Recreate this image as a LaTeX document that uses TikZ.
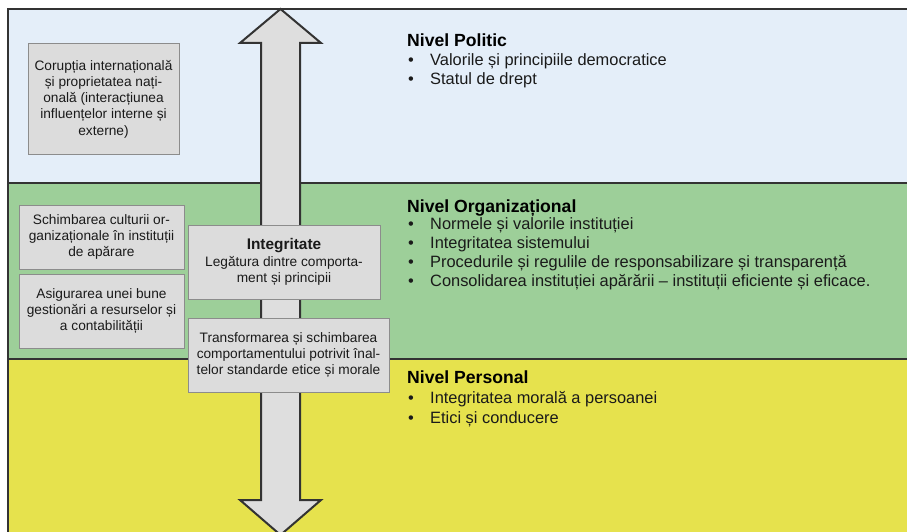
\documentclass[tikz,border=0pt]{standalone}
\usepackage{fontspec}
\setmainfont{Liberation Sans}
\definecolor{bandblue}{HTML}{E4EEF9}
\definecolor{bandgreen}{HTML}{9DCF99}
\definecolor{bandyellow}{HTML}{E6E24D}
\definecolor{boxfill}{HTML}{DCDCDC}
\definecolor{boxline}{HTML}{8C8C8C}
\definecolor{arrowfill}{HTML}{DEDEDE}
\definecolor{frameline}{HTML}{333333}
\definecolor{textcol}{HTML}{1A1A1A}
\tikzset{
  infobox/.style={draw=boxline, line width=1pt, fill=boxfill, align=center,
    inner sep=0pt, text=textcol, font=\fontsize{13.7}{16.3}\selectfont},
  heading/.style={anchor=base west, inner sep=0pt, text=black, font=\fontsize{17.6}{20}\selectfont\bfseries},
  bulletitem/.style={anchor=base west, inner sep=0pt, text=textcol, font=\fontsize{16.4}{19}\selectfont},
  sepline/.style={draw=frameline, line width=2pt},
}
\newcommand{\bul}{\makebox[23pt][l]{\hspace{1pt}•}}
\begin{document}
\begin{tikzpicture}[x=1pt,y=-1pt]
\useasboundingbox (0,0) rectangle (907,532);
\begin{scope}
\clip (0,0) rectangle (907,532);
% bands
\fill[bandblue] (8,9) rectangle (910,183);
\fill[bandgreen] (8,183) rectangle (910,359);
\fill[bandyellow] (8,359) rectangle (910,540);
% frame and separators
\draw[sepline] (8,545) -- (8,9) -- (910,9);
\draw[sepline] (8,183) -- (910,183);
\draw[sepline] (8,359) -- (910,359);
% double arrow
\draw[draw=frameline, line width=2pt, fill=arrowfill, line join=miter]
  (280.5,9) -- (321,43) -- (300,43) -- (300,500) -- (321,500) -- (280.5,535)
  -- (240,500) -- (261,500) -- (261,43) -- (240,43) -- cycle;
\end{scope}
% boxes
\node[infobox, minimum width=151pt, minimum height=110pt] (b1) at (103.5,99)
  {Corupția internațională\\și proprietatea nați-\\onală (interacțiunea\\influențelor interne și\\externe)};
\node[infobox, minimum width=165pt, minimum height=64pt] (b2) at (101.5,237)
  {Schimbarea culturii or-\\ganizaționale în instituții\\de apărare};
\node[infobox, minimum width=165pt, minimum height=74pt] (b3) at (101.5,311)
  {Asigurarea unei bune\\gestionări a resurselor și\\a contabilității};
\node[infobox, minimum width=192pt, minimum height=74pt] (b4) at (284,262)
  {{\fontsize{15.4}{17}\selectfont\bfseries Integritate}\\Legătura dintre comporta-\\ment și principii};
\node[infobox, minimum width=201pt, minimum height=74pt] (b5) at (288.5,355)
  {Transformarea și schimbarea\\comportamentului potrivit înal-\\telor standarde etice și morale};
% right texts
\node[heading] (hpol) at (407,47) {Nivel Politic};
\node[bulletitem] (pol1) at (407,66) {\bul Valorile și principiile democratice};
\node[bulletitem] (pol2) at (407,85) {\bul Statul de drept};
\node[heading] (horg) at (407,212) {Nivel Organizațional};
\node[bulletitem] (org1) at (407,229) {\bul Normele și valorile instituției};
\node[bulletitem] (org2) at (407,248) {\bul Integritatea sistemului};
\node[bulletitem] (org3) at (407,267) {\bul Procedurile și regulile de responsabilizare și transparență};
\node[bulletitem] (org4) at (407,286) {\bul Consolidarea instituției apărării – instituții eficiente și eficace.};
\node[heading] (hper) at (407,383) {Nivel Personal};
\node[bulletitem] (per1) at (407,403) {\bul Integritatea morală a persoanei};
\node[bulletitem] (per2) at (407,423) {\bul Etici și conducere};
\end{tikzpicture}
\end{document}
